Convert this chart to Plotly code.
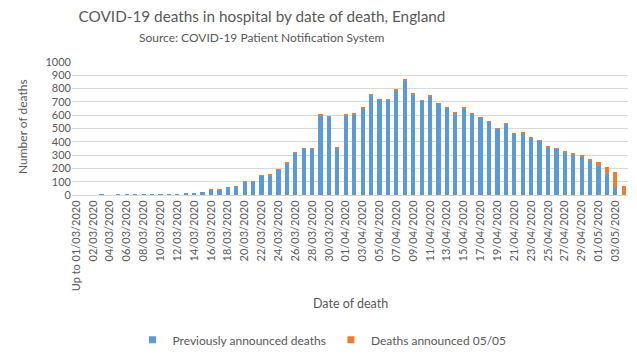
import plotly.graph_objects as go
import pandas as pd

dates = pd.date_range("2020-03-01", "2020-05-04", freq="D")
categories = ["Up to 01/03/2020"] + [d.strftime("%d/%m/%Y") for d in dates]

previously_announced = [0, 0, 0, 1, 0, 2, 2, 2, 2, 3, 4, 4, 6, 10, 18, 25,
                        40, 42, 58, 62, 98, 98, 148, 150, 188, 238, 316, 350,
                        350, 598, 590, 353, 598, 606, 652, 752, 717, 717, 789,
                        862, 757, 709, 742, 687, 657, 615, 652, 609, 579, 549,
                        499, 537, 459, 465, 429, 407, 357, 347, 321, 308, 288,
                        262, 218, 161, 55, 0]
announced_0505 = [0, 0, 0, 0, 0, 0, 0, 0, 0, 0, 0, 0, 0, 0, 0, 0,
                  1, 1, 1, 3, 2, 2, 2, 2, 3, 3, 3, 3,
                  3, 4, 4, 3, 4, 4, 4, 4, 4, 4, 4,
                  5, 4, 4, 4, 4, 4, 4, 4, 4, 4, 4,
                  4, 4, 4, 4, 4, 4, 5, 5, 5, 6, 8,
                  10, 29, 52, 121, 67]

tick_labels = categories[::2]

BLUE = "#5B9BD5"
ORANGE = "#ED7D31"
GREY = "#595959"

# plot area in pixels
L, R, T, B = 72, 9, 62, 167
W, H = 637, 364
PW, PH = W - L - R, H - T - B


def px_x(p):
    return (p - L) / PW


def px_y(p):
    return (H - B - p) / PH


fig = go.Figure()
fig.add_trace(go.Bar(x=categories, y=previously_announced, name="Previously announced deaths",
                     marker=dict(color=BLUE, line=dict(width=0)), showlegend=False))
fig.add_trace(go.Bar(x=categories, y=announced_0505, name="Deaths announced 05/05",
                     marker=dict(color=ORANGE, line=dict(width=0)), showlegend=False))
# legend entries with small square symbols
fig.add_trace(go.Scatter(x=[None], y=[None], mode="markers", name="Previously announced deaths",
                         marker=dict(symbol="square", size=7, color=BLUE)))
fig.add_trace(go.Scatter(x=[None], y=[None], mode="markers", name="Deaths announced 05/05",
                         marker=dict(symbol="square", size=7, color=ORANGE)))

font_family = "Lato, 'Open Sans', sans-serif"
fig.update_layout(
    barmode="stack",
    bargap=0.5,
    width=W, height=H,
    margin=dict(l=L, r=R, t=T, b=B),
    paper_bgcolor="white", plot_bgcolor="white",
    font=dict(family=font_family, color=GREY, size=11),
    title=dict(text="COVID-19 deaths in hospital by date of death, England",
               x=262 / W, xanchor="center", y=1 - 17 / H, yanchor="middle",
               font=dict(size=15.3, color=GREY, family=font_family)),
    showlegend=True,
    legend=dict(orientation="h", x=px_x(322), xanchor="center", y=px_y(344), yanchor="middle",
                font=dict(size=12, color=GREY), traceorder="normal",
                itemwidth=30, bgcolor="rgba(0,0,0,0)"),
    annotations=[
        dict(text="Source: COVID-19 Patient Notification System", x=px_x(262), xref="paper",
             y=px_y(37), yref="paper", showarrow=False, xanchor="center", yanchor="middle",
             font=dict(size=12, color=GREY, family=font_family)),
        dict(text="Number of deaths", x=px_x(22), xref="paper", y=px_y(128), yref="paper",
             showarrow=False, xanchor="center", yanchor="middle", textangle=-90,
             font=dict(size=12, color=GREY, family=font_family)),
        dict(text="Date of death", x=px_x(350), xref="paper", y=px_y(307), yref="paper",
             showarrow=False, xanchor="center", yanchor="middle",
             font=dict(size=12.5, color=GREY, family=font_family)),
    ],
)
fig.update_xaxes(
    type="category", tickmode="array", tickvals=tick_labels, ticktext=tick_labels,
    tickangle=-90, tickfont=dict(size=11, color=GREY), automargin=False,
    showgrid=False, showline=True, linecolor="#D9D9D9", ticks="",
)
fig.update_yaxes(
    range=[0, 1000], dtick=100, tickfont=dict(size=11, color=GREY), automargin=False,
    showgrid=True, gridcolor="#D9D9D9", zeroline=False, showline=False, ticks="",
)
fig.write_html("out.html", config={"displayModeBar": False},
               post_script="document.body.style.margin='0';")
